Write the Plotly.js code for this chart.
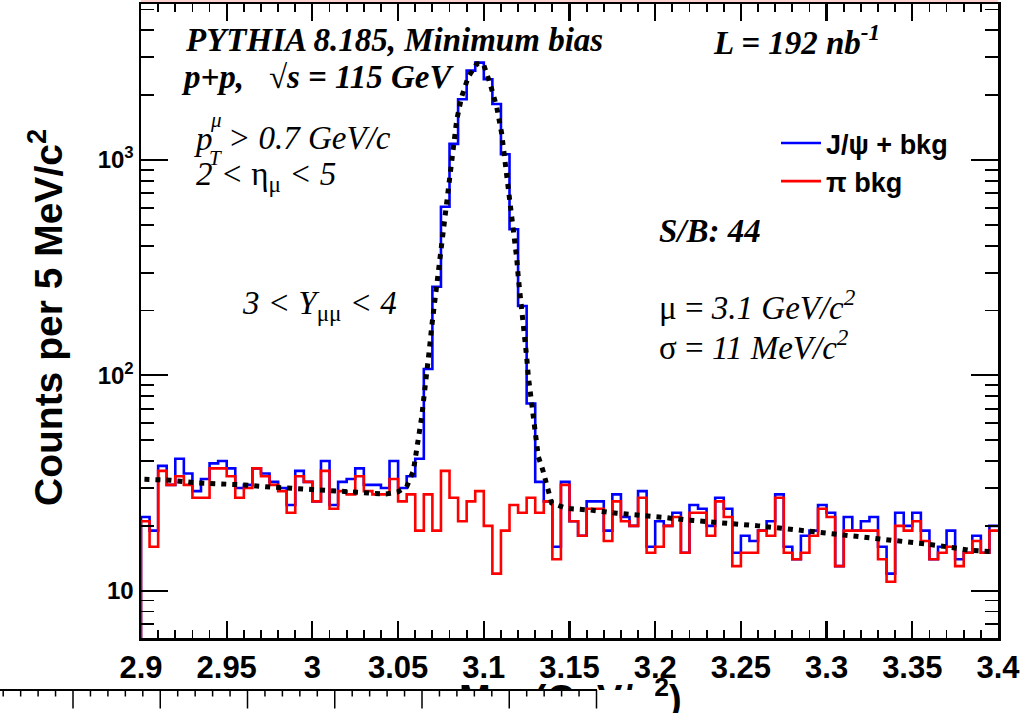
<!DOCTYPE html>
<html>
<head>
<meta charset="utf-8">
<script src="https://cdn.plot.ly/plotly-3.0.1.min.js"></script>
<style>html,body{margin:0;padding:0;background:#fff;}#chart{width:1032px;height:713px;}</style>
</head>
<body>
<div id="chart"></div>
<script>
// ---- data (5 MeV bins, 2.9 -> 3.4 GeV) ----
const binLow = 2.9;
const binWidth = 0.005;
const jpsiPlusBkg = [22,19,38,31,41,35,29,33,39,40, 37,30,31,37,35,32,30,25,36,32,
  26,40,25,32,33,37,31,31,30,40, 30,34,41,107,258,607,1188,1916,2602,2834,
  2373,1822,1064,477,210,74,32,26,16,32, 21,18,26,26,19,28,22,20,29,16,
  21,20,23,15,25,24,20,27,24,15, 18,17,19,21,28,16,14,18,19,25,
  23,13,22,19,21,22,16,12,23,20, 23,19,14,16,19,14,15,18,15,20];
const piBkg = [21,16,36,31,34,31,27,27,37,37, 34,27,30,37,34,31,29,23,34,32,
  26,36,24,29,28,34,29,28,28,33, 26,28,19,28,19,36,27,21,26,29,
  20,12,19,25,23,27,23,26,14,31, 21,18,24,24,17,26,21,20,27,15,
  16,20,22,15,23,23,18,26,22,13, 15,15,19,18,27,15,14,15,18,24,
  22,13,19,19,19,19,14,11,20,19, 21,17,14,15,16,13,15,17,15,19];
// fit curve (dotted)
const fitMass = [2.902,2.917,2.932,2.946,2.960,2.973,2.987,3.000,3.014,3.030,3.043,3.050,3.055,3.0589,3.0608,
  3.0624,3.0638,3.0651,3.0667,3.0682,3.0696,3.0715,3.0734,3.0753,3.0773,3.0793,3.0822,3.0842,3.0871,3.0910,
  3.0959,3.0997,3.1036,3.1075,3.1104,3.1124,3.1153,3.1172,3.1192,3.1201,3.1211,3.1227,3.1235,3.1250,3.1260,
  3.1274,3.1285,3.1299,3.1318,3.1344,3.1367,3.1386,3.1396,3.1484,3.1620,3.1775,3.1911,3.2047,3.2184,3.2330,
  3.2466,3.2602,3.2738,3.2874,3.3010,3.3156,3.3292,3.3428,3.3574,3.3701,3.3837,3.3953];
const fitCounts = [32.9,32.6,31.7,31.5,31.0,30.4,29.9,29.4,29.0,28.5,28.1,28.8,30.4,36,44,
  53.8,64.3,79.6,98.6,131,168,224,298,400,600,808,1197,1535,1970,2440,
  2800,2800,2274,1770,1332,1000,653,491,350,287,245,187,157,122,98.6,
  79.6,64.3,51.9,41.9,36.4,31.5,27.3,25.5,24.1,23.7,22.9,22.5,21.9,21.3,20.9,
  20.6,20.0,19.5,19.0,18.5,17.9,17.5,17.0,16.5,16.0,15.4,15.2];
const xTickVals = [2.9,2.95,3.0,3.05,3.1,3.15,3.2,3.25,3.3,3.35,3.4];
const xTickText = ['2.9','2.95','3','3.05','3.1','3.15','3.2','3.25','3.3','3.35','3.4'];
const yTickVals = [10,100,1000];
const yTickText = ['10','10<sup>2</sup>','10<sup>3</sup>'];
const yMinorVals = [7,8,9,20,30,40,50,60,70,80,90,200,300,400,500,600,700,800,900,2000,3000,4000,5000];
const seriesNames = ['<b>J/ψ + bkg</b>','<b>π bkg</b>'];

// ---- geometry ----
const W = 1032, H = 713;
const L = 141, R = 998, T = 4, B = 638;
const px = x => (x - L) / (R - L);
const py = y => (B - y) / (B - T);

function histXY(vals){
  const x = [binLow], y = [1];
  for (let i = 0; i < vals.length; i++){ x.push(binLow + i*binWidth); y.push(vals[i]); }
  x.push(binLow + vals.length*binWidth); y.push(vals[vals.length-1]);
  return {x, y};
}
const hb = histXY(jpsiPlusBkg), hr = histXY(piBkg);

const traces = [
  {x: hb.x, y: hb.y, type:'scatter', mode:'lines', line:{shape:'hv', color:'#0000ff', width:2.6}, name: seriesNames[0]},
  {x: hr.x, y: hr.y, type:'scatter', mode:'lines', line:{shape:'hv', color:'#ff0000', width:2.6}, name: seriesNames[1]},
  {x: fitMass, y: fitCounts, type:'scatter', mode:'lines', line:{color:'#000', width:5, dash:'5px,6px'}, showlegend:false, name:'fit'}
];

const serif = 'Liberation Serif, Times New Roman, serif';
const sans = 'Liberation Sans, Arial, Helvetica, sans-serif';
const ann = [];
function txt(t, x, y, size, family, extra){
  ann.push(Object.assign({text:t, x:px(x), y:py(y), xref:'paper', yref:'paper', xanchor:'left', yanchor:'middle',
    showarrow:false, font:{family:family, size:size, color:'#000'}}, extra||{}));
}
txt('<b><i>PYTHIA 8.185, Minimum bias</i></b>', 183, 40, 33, serif);
txt('<b><i>p+p,\u00a0\u00a0 √s = 115 GeV</i></b>', 179, 77, 33, serif);
txt('<b><i>L = 192 nb<sup>-1</sup></i></b>', 711, 40, 33, serif);
txt('<i>p</i>', 192, 139, 33, serif);
txt('<i>μ</i>', 208, 120, 21, serif);
txt('<i>T</i>', 207, 158, 21, serif);
txt('<i>&gt; 0.7 GeV/c</i>', 226, 138, 33, serif);
txt('<i>2 &lt; </i>η<sub>μ</sub><i> &lt; 5</i>', 194, 176, 33, serif);
txt('<i>3 &lt; Y</i><sub>μμ</sub><i> &lt; 4</i>', 240, 305, 33, serif);
txt('<b><i>S/B: 44</i></b>', 657, 231, 33, serif);
txt('μ = <i>3.1 GeV/c<sup>2</sup></i>', 657, 305, 33, serif);
txt('σ = <i>11 MeV/c<sup>2</sup></i>', 657, 345, 33, serif);
// axis titles
txt('<b>Counts per 5 MeV/c<sup>2</sup></b>', 45, 318, 39, sans, {xanchor:'center', textangle:-90});
txt('<b>M<sub>μμ</sub> (GeV/c<sup>2</sup>)</b>', 570, 699, 38, sans, {xanchor:'center'});
// overlapping strip of a neighbouring figure at the bottom
ann.push({text:'\u00a0', x:px(0), y:py(713), xref:'paper', yref:'paper', xanchor:'left', yanchor:'bottom',
  width:655, height:23, bgcolor:'#fff', borderpad:0, borderwidth:0, showarrow:false, font:{size:1}});
ann.push({text:'\u00a0', x:px(0), y:py(689), xref:'paper', yref:'paper', xanchor:'left', yanchor:'top',
  width:597, height:2, bgcolor:'#000', borderpad:0, borderwidth:0, showarrow:false, font:{size:1}});
for (let k = -4; k <= 30; k++){
  const xx = 73 + 17.45*k;
  if (xx < 1 || xx > 597) continue;
  const major = (k % 5 === 0);
  ann.push({text:'', x:px(xx), y:py(690), xref:'paper', yref:'paper', showarrow:true, arrowhead:0,
    arrowwidth:1.5, arrowcolor:'#000', ax:0, ay: major ? 20 : 8, standoff:0});
}

const layout = {
  width: W, height: H,
  margin: {l:L, r:W-R, t:T, b:H-B, pad:0},
  paper_bgcolor:'#fff', plot_bgcolor:'#fff',
  showlegend: true,
  legend: {x:px(776), y:py(119), xanchor:'left', yanchor:'top', bgcolor:'rgba(0,0,0,0)',
    font:{family:sans, size:27, color:'#000'}, itemwidth:40, tracegroupgap:0},
  xaxis: {range:[2.9,3.4], tickvals:xTickVals, ticktext:xTickText, ticks:'inside', ticklen:17, tickwidth:2.2,
    tickcolor:'#000', showline:true, linewidth:2.5, linecolor:'#000', mirror:'allticks', showgrid:false, zeroline:false,
    tickfont:{family:sans, size:31, color:'#000', weight:'bold'},
    minor:{dtick:0.01, tick0:2.9, ticks:'inside', ticklen:8, tickwidth:1.8, tickcolor:'#000', showgrid:false}},
  yaxis: {type:'log', range:[Math.log10(6.03), Math.log10(5304)], tickvals:yTickVals, ticktext:yTickText,
    ticks:'inside', ticklen:27, tickwidth:2.2, tickcolor:'#000', showline:true, linewidth:2.5, linecolor:'#000',
    mirror:'allticks', showgrid:false, zeroline:false, tickfont:{family:sans, size:24, color:'#000', weight:'bold'},
    minor:{tickvals:yMinorVals, ticks:'inside', ticklen:13, tickwidth:1.8, tickcolor:'#000', showgrid:false}},
  annotations: ann,
  shapes: [{type:'line', xref:'paper', yref:'paper', x0:0, x1:1, y0:py(1), y1:py(1), line:{color:'rgba(255,80,80,0.5)', width:1}}]
};

Plotly.newPlot('chart', traces, layout, {staticPlot:true, displayModeBar:false});
</script>
</body>
</html>
